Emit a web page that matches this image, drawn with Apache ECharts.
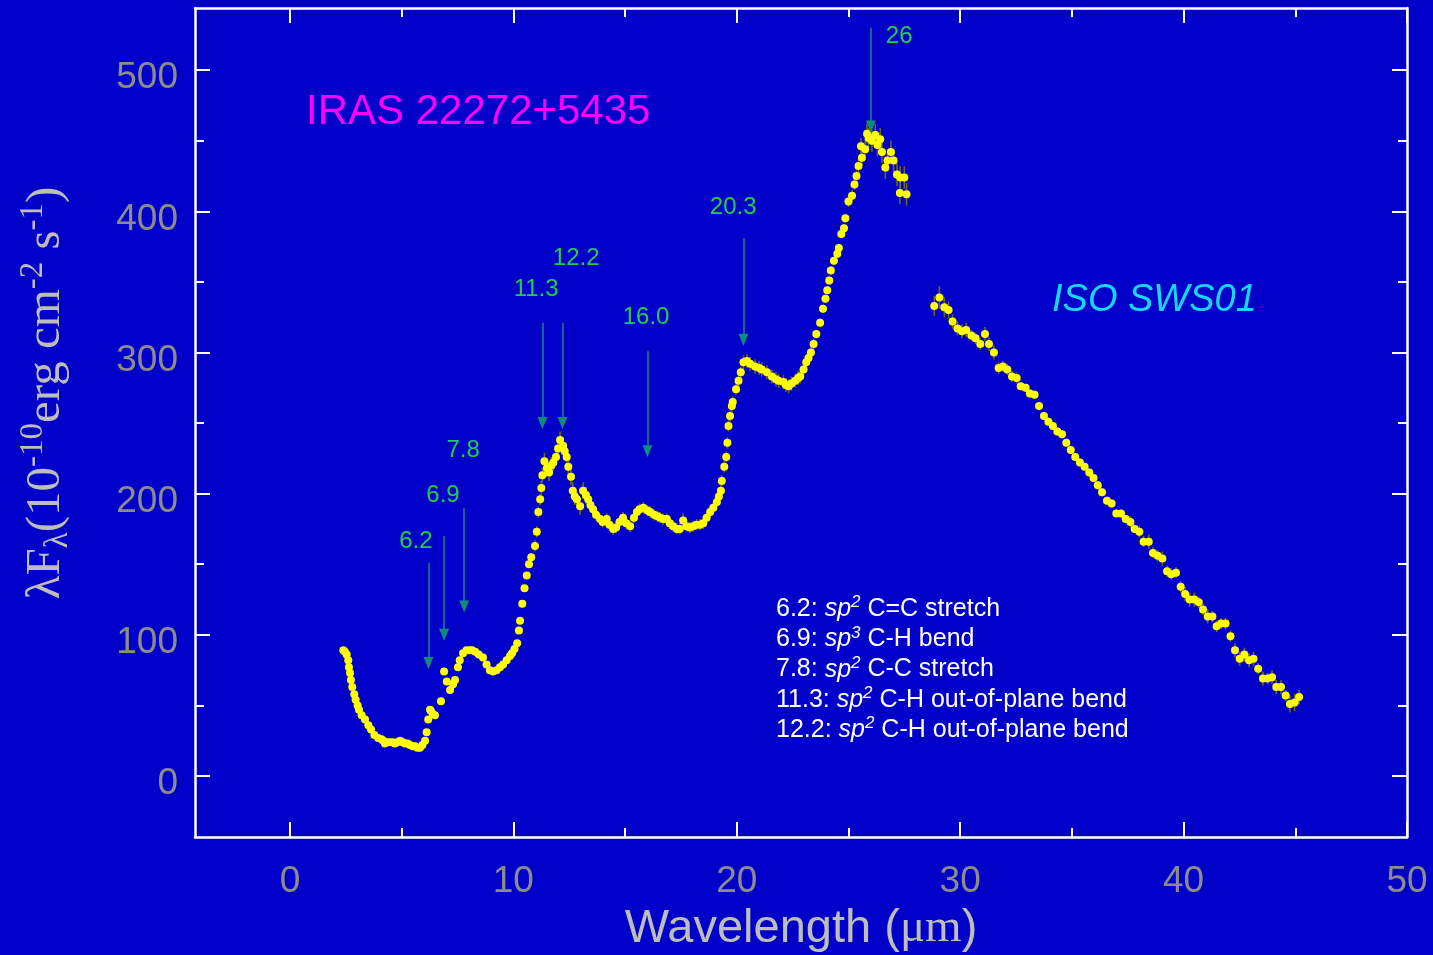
<!DOCTYPE html>
<html>
<head>
<meta charset="utf-8">
<title>IRAS 22272+5435 ISO SWS01 spectrum</title>
<script src="https://cdn.jsdelivr.net/npm/echarts@6/dist/echarts.min.js"></script>
<style>
  html, body { margin: 0; padding: 0; background: #0000c8; }
  #chart { width: 1433px; height: 955px; }
</style>
</head>
<body>
<div id="chart"></div>
<script>
// Spectrum points: [wavelength (um), lambda*F_lambda (1e-10 erg cm^-2 s^-1), error]
const shortBand = [
  [2.39,89,1],[2.46,88,1],[2.54,86,1],[2.61,82,1],[2.64,77,1],[2.69,73,1],[2.73,68,1],[2.79,63,1],
  [2.88,58,1],[2.94,54,1],[3.03,50,1],[3.09,47,1],[3.21,43,1],[3.36,40,1],[3.51,36,1],[3.63,33,1],
  [3.78,29,1],[3.95,27,1],[4.10,26,1],[4.18,25,1],[4.25,23,1],[4.35,24,1],[4.48,24,1],[4.60,24,1],
  [4.70,23,1],[4.80,24,1],[4.93,25,1],[5.05,24,1],[5.15,23,1],[5.27,23,1],[5.37,22,1],[5.50,21,1],
  [5.60,21,1],[5.70,20,1],[5.82,20,1],[5.93,22,1],[6.05,25,1],[6.12,31,1],[6.19,40,1],[6.27,47,1],
  [6.31,46,1],[6.40,44,1],[6.49,43,1],[6.76,53,2],[6.90,74,2],[7.02,67,2],[7.17,61,2],[7.30,65,2],
  [7.39,68,2],[7.52,77,2],[7.60,82,2],[7.75,87,2],[7.90,89,2],[8.05,89,2],[8.15,89,2],[8.30,88,2],
  [8.45,86,2],[8.64,84,2],[8.80,79,2],[8.95,75,2],[9.09,74,2],[9.25,75,2],[9.40,77,2],[9.54,79,2],
  [9.70,82,2],[9.85,85,2],[9.94,87,2],[10.05,90,2],[10.17,94,2],[10.25,103,2],[10.30,110,2],[10.40,122,2],
  [10.50,133,2],[10.60,142,2],[10.70,150,2],[10.80,155,3],[10.97,163,4],[11.05,173,4],[11.12,187,4],[11.20,196,4],
  [11.25,204,5],[11.30,213,5],[11.39,223,6],[11.50,218,6],[11.60,215,6],[11.70,220,6],[11.79,222,6],[11.91,226,6],
  [12.00,232,6],[12.09,238,6],[12.23,234,6],[12.30,230,6],[12.39,226,6],[12.46,219,6],[12.58,212,6],[12.66,202,6],
  [12.75,198,6],[12.84,196,6],[12.99,191,6],[13.12,202,6],[13.25,199,6],[13.35,196,5],[13.45,192,5],[13.57,189,5],
  [13.70,185,4],[13.88,182,4],[14.00,180,4],[14.18,182,4],[14.30,178,4],[14.47,175,4],[14.60,176,4],[14.75,180,4],
  [14.91,183,4],[15.05,179,4],[15.23,177,4],[15.40,183,4],[15.53,187,4],[15.65,189,4],[15.82,190,4],[16.00,188,4],
  [16.12,187,4],[16.30,185,4],[16.45,184,4],[16.57,183,4],[16.70,182,4],[16.87,182,4],[17.00,179,4],[17.15,177,4],
  [17.32,175,4],[17.45,175,4],[17.60,181,5],[17.75,177,4],[17.90,176,4],[18.05,177,4],[18.20,178,4],[18.35,178,4],
  [18.50,179,4],[18.65,183,4],[18.81,187,4],[18.95,190,4],[19.11,194,4],[19.20,198,4],[19.29,202,4],[19.33,209,4],
  [19.44,219,4],[19.53,226,4],[19.58,236,4],[19.63,248,4],[19.70,255,4],[19.78,262,4],[19.82,265,4],[19.97,274,4],
  [20.08,280,4],[20.18,286,4],[20.30,293,5],[20.45,294,5],[20.60,292,5],[20.82,290,5],[21.00,289,5],[21.12,288,5],
  [21.35,286,5],[21.57,283,5],[21.75,281,5],[21.87,280,5],[22.09,279,5],[22.20,277,5],[22.32,276,5],[22.45,278,5],
  [22.62,280,5],[22.75,282,5],[22.84,283,5],[22.99,288,5],[23.11,293,4],[23.21,296,4],[23.32,300,4],[23.44,306,4],
  [23.56,313,3],[23.73,321,3],[23.86,331,3],[23.97,338,3],[24.05,344,3],[24.14,351,3],[24.21,358,3],[24.35,365,3],
  [24.50,370,3],[24.57,374,3],[24.68,384,3],[24.80,388,3],[24.86,395,3],[25.00,407,4],[25.16,411,4],[25.27,419,4],
  [25.36,425,4],[25.45,432,5],[25.60,438,6],[25.56,446,6],[25.75,444,7],[25.83,455,7],[25.90,452,7],[26.05,450,8],
  [26.20,454,8],[26.30,447,8],[26.42,451,8],[26.50,442,8],[26.65,431,8],[26.75,436,8],[26.90,442,8],[27.02,436,8],
  [27.17,426,8],[27.32,424,8],[27.50,424,8],[27.30,413,8],[27.60,412,8]
];

const longBand = [
  [28.84,333,7],[29.07,339,8],[29.29,332,7],[29.48,330,6],[29.66,322,5],[29.88,317,5],[30.08,315,5],[30.27,316,5],
  [30.50,312,4],[30.69,310,4],[30.90,306,4],[31.11,313,5],[31.29,306,5],[31.51,300,5],[31.72,289,4],[31.91,290,4],
  [32.11,288,4],[32.32,283,4],[32.53,282,4],[32.71,276,3],[32.93,275,3],[33.12,271,3],[33.33,270,3],[33.53,262,3],
  [33.75,255,3],[33.95,251,3],[34.15,248,3],[34.35,244,3],[34.56,242,3],[34.75,236,3],[34.95,231,3],[35.15,226,3],
  [35.36,222,3],[35.57,219,3],[35.78,215,3],[35.97,211,3],[36.16,206,3],[36.35,201,3],[36.57,195,3],[36.78,193,3],
  [36.99,186,3],[37.20,186,3],[37.41,182,3],[37.62,180,4],[37.81,175,3],[38.02,173,4],[38.21,166,4],[38.44,166,5],
  [38.63,158,4],[38.84,156,4],[39.05,154,5],[39.26,145,4],[39.45,143,4],[39.66,144,4],[39.87,134,4],[40.07,129,5],
  [40.27,125,5],[40.48,125,5],[40.68,123,4],[40.87,118,4],[41.08,113,5],[41.29,113,4],[41.48,106,4],[41.68,108,4],
  [41.88,108,4],[42.10,99,4],[42.30,89,5],[42.51,83,5],[42.72,86,5],[42.93,82,5],[43.13,83,5],[43.34,76,4],
  [43.55,69,5],[43.76,69,4],[43.96,70,5],[44.15,63,5],[44.36,63,5],[44.57,57,4],[44.76,51,6],[44.97,52,6],
  [45.17,56,5]
];

// Identified emission features: label, wavelength, arrow top / arrow tip flux
const featureLabels = ['6.2', '6.9', '7.8', '11.3', '12.2', '16.0', '20.3', '26'];
const featureWaves  = [6.2, 6.9, 7.8, 11.3, 12.2, 16.0, 20.3, 26.0];
const arrowTop      = [151, 170, 190, 321, 321, 301, 381, 530];
const arrowTip      = [80, 100, 120, 250, 250, 230, 309, 460];
// Anchor of each feature label in data space
const labelAnchorX  = [5.64, 6.85, 7.75, 11.02, 12.81, 15.94, 19.84, 27.27];
const labelAnchorY  = [166, 199, 231, 345, 367, 325, 403, 524];

// Assignment notes
const noteIds   = ['6.2', '6.9', '7.8', '11.3', '12.2'];
const noteHyb   = ['2', '3', '2', '2', '2'];
const noteModes = ['C=C stretch', 'C-H bend', 'C-C stretch', 'C-H out-of-plane bend', 'C-H out-of-plane bend'];

// Axis ticks
const xMajorTicks = [0, 10, 20, 30, 40, 50];
const xMinorTicks = [5, 15, 25, 35, 45];
const yMajorTicks = [0, 100, 200, 300, 400, 500];
const yMinorTicks = [-50, 50, 150, 250, 350, 450];

const X_MIN = -4.25, X_MAX = 50, Y_MIN = -43.2, Y_MAX = 544;

const chart = echarts.init(document.getElementById('chart'), null, { renderer: 'canvas' });

const FRAME = '#ffffff';
const TICK_LABEL = '#8c8c8c';
const SANS = 'Liberation Sans, Arial, sans-serif';
const gridRect = { left: 195, top: 8, width: 1212, height: 829 };

function frameAxis(dim, position, gridIndex, ticks, len, showLine, labels) {
  const isX = dim === 'x';
  return {
    type: 'value',
    gridIndex: gridIndex,
    position: position,
    min: isX ? X_MIN : Y_MIN,
    max: isX ? X_MAX : Y_MAX,
    axisLine: { show: showLine, onZero: false, lineStyle: { color: FRAME, width: 2.5 } },
    axisTick: { show: true, inside: true, length: len, customValues: ticks,
                lineStyle: { color: FRAME, width: 2 } },
    axisLabel: labels ? {
      show: true, customValues: ticks, color: TICK_LABEL,
      fontFamily: SANS, fontSize: 37,
      margin: isX ? 26 : 17,
      // y labels sit a little below their ticks
      formatter: isX ? '{value}' : '{d|{value}}',
      rich: { d: { fontFamily: SANS, fontSize: 37, color: TICK_LABEL, padding: [16, 0, 0, 0] } }
    } : { show: false },
    splitLine: { show: false },
    minorTick: { show: false }
  };
}

function errorBars(params, api) {
  const x = api.value(0), y = api.value(1), e = api.value(2);
  const a = api.coord([x, y - e]);
  const b = api.coord([x, y + e]);
  return {
    type: 'line',
    shape: { x1: a[0], y1: a[1], x2: b[0], y2: b[1] },
    style: { stroke: '#6c6a10', lineWidth: 1.6 }
  };
}

const arrowLines = featureWaves.map((w, i) => [
  { coord: [w, arrowTop[i]] },
  { coord: [w, arrowTip[i]] }
]);
const labelPoints = featureLabels.map((t, i) => ({ value: [labelAnchorX[i], labelAnchorY[i]], name: t }));

const noteGraphics = noteIds.map((id, i) => ({
  type: 'text',
  x: 776, y: 609 + i * 30.3,
  style: {
    text: id + ': {it|sp}{sup|' + noteHyb[i] + '} ' + noteModes[i],
    fill: '#ffffff',
    font: '25px "Liberation Sans", Arial, sans-serif',
    verticalAlign: 'middle',
    lineHeight: 30,
    rich: {
      it: { fontStyle: 'italic', fontSize: 25, lineHeight: 30, fill: '#ffffff', fontFamily: SANS },
      sup: { fontStyle: 'italic', fontSize: 17, lineHeight: 17, verticalAlign: 'top', fill: '#ffffff', fontFamily: SANS }
    }
  }
}));

const serif = 'Liberation Serif, "Times New Roman", serif';
const titleGray = '#bdbdbd';

const option = {
  backgroundColor: '#0000c8',
  animation: false,
  grid: [
    Object.assign({ containLabel: false }, gridRect),
    Object.assign({ containLabel: false }, gridRect)
  ],
  xAxis: [
    frameAxis('x', 'bottom', 0, xMajorTicks, 15, true, true),
    frameAxis('x', 'top', 0, xMajorTicks, 15, true, false),
    frameAxis('x', 'bottom', 1, xMinorTicks, 9, false, false),
    frameAxis('x', 'top', 1, xMinorTicks, 9, false, false)
  ],
  yAxis: [
    frameAxis('y', 'left', 0, yMajorTicks, 15, true, true),
    frameAxis('y', 'right', 0, yMajorTicks, 15, true, false),
    frameAxis('y', 'left', 1, yMinorTicks, 9, false, false),
    frameAxis('y', 'right', 1, yMinorTicks, 9, false, false)
  ],
  series: [
    {
      type: 'custom', name: 'err-short', xAxisIndex: 0, yAxisIndex: 0,
      renderItem: errorBars, data: shortBand, z: 2, silent: true, clip: true
    },
    {
      type: 'custom', name: 'err-long', xAxisIndex: 0, yAxisIndex: 0,
      renderItem: errorBars, data: longBand, z: 2, silent: true, clip: true
    },
    {
      type: 'scatter', name: 'SWS short', xAxisIndex: 0, yAxisIndex: 0,
      data: shortBand.map(p => [p[0], p[1]]),
      symbol: 'circle', symbolSize: 8,
      itemStyle: { color: '#ffff00', opacity: 1 }, z: 3, silent: true
    },
    {
      type: 'scatter', name: 'SWS long', xAxisIndex: 0, yAxisIndex: 0,
      data: longBand.map(p => [p[0], p[1]]),
      symbol: 'circle', symbolSize: 8,
      itemStyle: { color: '#ffff00', opacity: 1 }, z: 3, silent: true,
      markLine: {
        silent: true, animation: false,
        symbol: ['none', 'triangle'], symbolSize: [10, 12],
        label: { show: false },
        lineStyle: { color: '#0f8a7c', width: 1.5, type: 'solid' },
        emphasis: { disabled: true },
        data: arrowLines
      }
    },
    {
      type: 'scatter', name: 'feature labels', xAxisIndex: 0, yAxisIndex: 0,
      data: labelPoints, symbolSize: 0, silent: true, z: 4,
      label: {
        show: true, position: 'inside', formatter: p => p.name,
        color: '#2cff2c', fontSize: 24, fontFamily: SANS
      }
    }
  ],
  graphic: [
    {
      type: 'text', x: 306, y: 112,
      style: { text: 'IRAS 22272+5435', fill: '#ff00ff', verticalAlign: 'middle',
               font: '42px "Liberation Sans", Arial, sans-serif' }
    },
    {
      type: 'text', x: 1052, y: 300,
      style: { text: 'ISO SWS01', fill: '#16d8ff', verticalAlign: 'middle',
               font: 'italic 38px "Liberation Sans", Arial, sans-serif' }
    },
    {
      type: 'text', x: 801, y: 929,
      style: {
        text: 'Wavelength ({s|\u03bcm})', fill: titleGray, align: 'center', verticalAlign: 'middle',
        font: '47px "Liberation Sans", Arial, sans-serif',
        rich: { s: { fontFamily: serif, fontSize: 47, fill: titleGray } }
      }
    },
    {
      type: 'text', x: 46, y: 393, rotation: Math.PI / 2,
      style: {
        text: '\u03bbF{sub|\u03bb}(10{sup|-10}erg cm{sup|-2} s{sup|-1})',
        fill: titleGray, align: 'center', verticalAlign: 'middle',
        font: '49px ' + serif,
        lineHeight: 58,
        rich: {
          sub: { fontFamily: serif, fontSize: 33, lineHeight: 28, verticalAlign: 'bottom', fill: titleGray },
          sup: { fontFamily: serif, fontSize: 33, lineHeight: 28, verticalAlign: 'top', fill: titleGray }
        }
      }
    }
  ].concat(noteGraphics)
};

chart.setOption(option);
</script>
</body>
</html>
